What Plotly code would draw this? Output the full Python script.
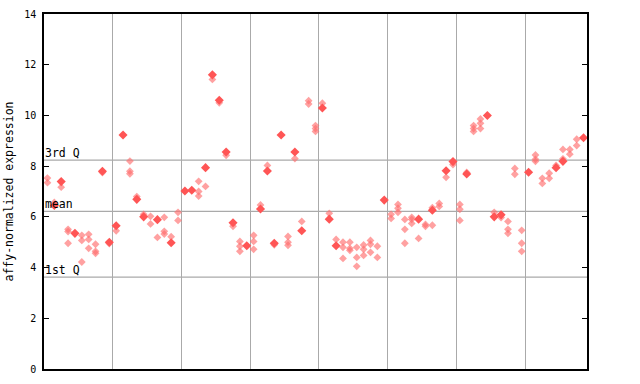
import plotly.graph_objects as go

# highlighted (filled) points: sample index, value
hl_samples = [1, 2, 4, 8, 9, 10, 11, 13, 14, 16, 18, 20, 21, 23, 24, 25, 26, 27, 29, 31, 32, 33, 34,
              36, 37, 40, 41, 42, 49, 54, 56, 58, 59, 61, 64, 65, 66, 70, 74, 75, 78]
hl_values = [6.45, 7.39, 5.35, 7.80, 5.00, 5.65, 9.23, 6.69, 6.00, 5.89, 4.98, 7.02, 7.05, 7.94, 11.60,
             10.60, 8.56, 5.77, 4.86, 6.31, 7.81, 4.96, 9.23, 8.56, 5.45, 10.29, 5.91, 4.86, 6.66,
             5.91, 6.26, 7.82, 8.18, 7.69, 10.00, 6.00, 6.08, 7.76, 7.94, 8.19, 9.12]

# other replicate (checkered) points
rep_samples = [0, 0, 1, 2, 3, 3, 3, 5, 5, 5, 6, 6, 6, 7, 7, 7, 8, 9, 10, 12, 12, 12, 13, 14, 15, 15,
               16, 17, 17, 17, 18, 19, 19, 22, 22, 22, 23, 24, 25, 26, 27, 28, 28, 28, 30, 30, 30,
               31, 32, 33, 35, 35, 35, 36, 37, 38, 38, 39, 39, 39, 40, 41, 42, 43, 43, 43, 44, 44,
               44, 45, 45, 45, 46, 46, 46, 47, 47, 47, 48, 48, 50, 50, 51, 51, 51, 52, 52, 52, 53,
               53, 53, 54, 55, 55, 56, 56, 57, 57, 58, 59, 60, 60, 60, 61, 62, 62, 62, 63, 63, 63,
               65, 66, 67, 67, 67, 68, 68, 69, 69, 69, 71, 71, 71, 72, 72, 73, 73, 74, 75, 75, 76,
               76, 77, 77]
rep_values = [7.53, 7.35, 6.57, 7.17, 5.51, 5.42, 4.96, 5.27, 5.07, 4.22, 5.31, 5.11, 4.76, 4.92, 4.64,
              4.56, 7.75, 4.95, 5.45, 8.20, 7.80, 7.70, 6.80, 6.10, 6.02, 5.72, 5.19, 5.98, 5.43, 5.32,
              5.22, 6.18, 5.86, 7.40, 7.00, 6.82, 7.20, 11.42, 10.50, 8.43, 5.63, 5.03, 4.84, 4.64,
              5.27, 5.03, 4.72, 6.47, 8.03, 4.90, 5.23, 5.00, 4.88, 8.30, 5.82, 10.58, 10.45, 9.60,
              9.48, 9.37, 10.48, 6.14, 5.11, 5.00, 4.80, 4.36, 5.00, 4.76, 4.68, 4.80, 4.40, 4.05,
              4.89, 4.72, 4.48, 5.07, 4.92, 4.60, 4.84, 4.40, 6.10, 5.94, 6.49, 6.34, 6.18, 5.90,
              5.51, 4.96, 5.98, 5.90, 5.74, 5.15, 5.70, 5.63, 6.36, 5.67, 6.53, 6.41, 7.56, 8.06,
              6.49, 6.30, 5.86, 7.75, 9.60, 9.48, 9.37, 9.86, 9.69, 9.48, 6.18, 5.97, 5.82, 5.51,
              5.35, 7.91, 7.68, 5.47, 4.96, 4.64, 8.44, 8.27, 8.19, 7.52, 7.32, 7.72, 7.52, 8.03,
              8.66, 8.29, 8.66, 8.47, 9.06, 8.81]

n_samples = 79
group_lines = [10, 20, 30, 40, 50, 60, 70]
y_ticks = [0, 2, 4, 6, 8, 10, 12, 14]
ref_names = ["3rd Q", "mean", "1st Q"]
ref_values = [8.24, 6.22, 3.62]

mono = "DejaVu Sans Mono"

fig = go.Figure()
fig.add_trace(go.Scatter(
    x=[s + 0.5 for s in rep_samples], y=rep_values, mode="markers",
    marker=dict(symbol="diamond", size=6, color="rgba(255,110,110,0.65)", line=dict(width=0)),
    hoverinfo="skip", showlegend=False))
fig.add_trace(go.Scatter(
    x=[s + 0.5 for s in hl_samples], y=hl_values, mode="markers",
    marker=dict(symbol="diamond", size=7, color="#ff5555", line=dict(width=0)),
    hoverinfo="skip", showlegend=False))

for name, v in zip(ref_names, ref_values):
    fig.add_shape(type="line", xref="paper", x0=0, x1=1, yref="y", y0=v, y1=v,
                  line=dict(color="#aaaaaa", width=1.2), layer="below")
    fig.add_annotation(xref="paper", x=0, yref="y", y=v, text=name, showarrow=False,
                       xanchor="left", yanchor="bottom", xshift=-1, yshift=-2,
                       font=dict(family=mono, size=11.5, color="black"))

fig.update_layout(
    width=640, height=384,
    margin=dict(l=44, r=53, t=14, b=15, autoexpand=False),
    paper_bgcolor="white", plot_bgcolor="white",
    font=dict(family=mono, size=10, color="black"),
    xaxis=dict(range=[0, n_samples], tickvals=group_lines, showticklabels=False, ticks="",
               showgrid=True, gridcolor="#aaaaaa", gridwidth=1.2, zeroline=False, automargin=False,
               showline=True, linecolor="black", linewidth=1.5, mirror=True, fixedrange=True),
    yaxis=dict(range=[0, 14], tickvals=y_ticks, ticks="inside", ticklen=5, tickcolor="black",
               showgrid=False, zeroline=False, showline=True, linecolor="black", linewidth=1.5,
               mirror="ticks", ticklabelstandoff=4, automargin=False,
               title=dict(text="affy-normalized expression", font=dict(family=mono, size=11.5),
                          standoff=8)),
)

fig.write_html("out.html")
